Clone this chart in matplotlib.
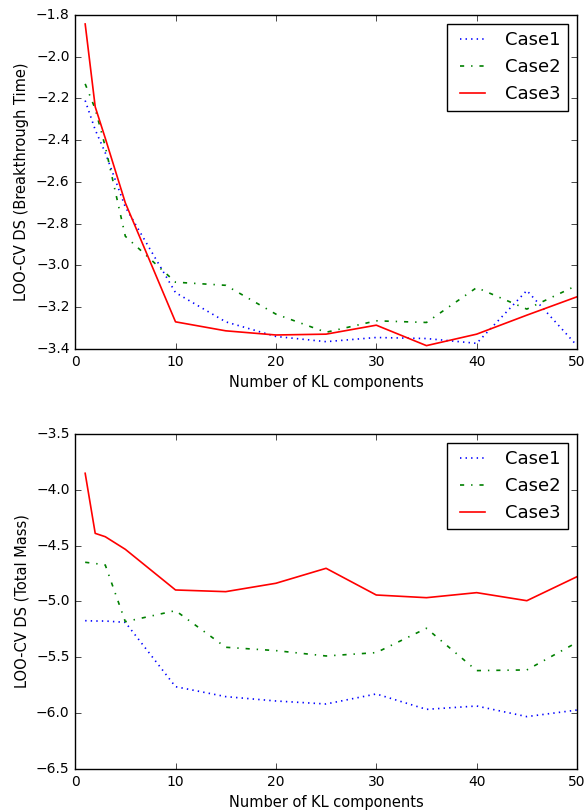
import matplotlib
matplotlib.use("Agg")
import matplotlib.pyplot as plt

# Number of KL components
n_kl = [1, 2, 3, 5, 10, 15, 20, 25, 30, 35, 40, 45, 50]

# LOO-CV DS (Breakthrough Time)
bt_case1 = [-2.21, -2.35, -2.46, -2.72, -3.13, -3.27, -3.34, -3.365, -3.345, -3.35, -3.373, -3.12, -3.384]
bt_case2 = [-2.13, -2.25, -2.43, -2.86, -3.08, -3.095, -3.233, -3.32, -3.265, -3.273, -3.106, -3.209, -3.095]
bt_case3 = [-1.843, -2.24, -2.39, -2.70, -3.27, -3.313, -3.333, -3.329, -3.286, -3.384, -3.329, -3.238, -3.15]

# LOO-CV DS (Total Mass)
tm_case1 = [-5.172, -5.175, -5.175, -5.187, -5.763, -5.852, -5.891, -5.918, -5.828, -5.966, -5.936, -6.031, -5.972]
tm_case2 = [-4.649, -4.66, -4.673, -5.181, -5.082, -5.41, -5.44, -5.488, -5.458, -5.24, -5.619, -5.613, -5.366]
tm_case3 = [-3.852, -4.39, -4.42, -4.533, -4.897, -4.912, -4.837, -4.703, -4.942, -4.966, -4.921, -4.993, -4.778]

labels = ["Case1", "Case2", "Case3"]


def plot_panel(ax, series, ylabel, ylim, yticks):
    styles = [("b", ":"), ("g", "-."), ("r", "-")]
    for y, (c, ls), lab in zip(series, styles, labels):
        ax.plot(n_kl, y, color=c, linestyle=ls, linewidth=1.2, label=lab)
    ax.set_xlim(0, 50)
    ax.set_ylim(*ylim)
    ax.set_yticks(yticks)
    ax.set_xticks(range(0, 51, 10))
    ax.set_xlabel("Number of KL components", fontsize=10.5)
    ax.set_ylabel(ylabel, fontsize=10.5)
    ax.tick_params(labelsize=10)
    leg = ax.legend(loc="upper right", fontsize=13, fancybox=False)
    leg.get_frame().set_edgecolor("black")


def main():
    plt.style.use("classic")
    plt.rcParams["figure.facecolor"] = "white"
    fig = plt.figure(figsize=(5.87, 8.11), dpi=100)
    ax1 = fig.add_axes([0.128, 0.5697, 0.855, 0.4118])
    ax2 = fig.add_axes([0.128, 0.0518, 0.855, 0.4131])

    plot_panel(ax1, [bt_case1, bt_case2, bt_case3],
               "LOO-CV DS (Breakthrough Time)", (-3.4, -1.8),
               [-3.4, -3.2, -3.0, -2.8, -2.6, -2.4, -2.2, -2.0, -1.8])
    plot_panel(ax2, [tm_case1, tm_case2, tm_case3],
               "LOO-CV DS (Total Mass)", (-6.5, -3.5),
               [-6.5, -6.0, -5.5, -5.0, -4.5, -4.0, -3.5])

    fig.savefig("out.png", dpi=100, facecolor="white")


if __name__ == "__main__":
    main()
